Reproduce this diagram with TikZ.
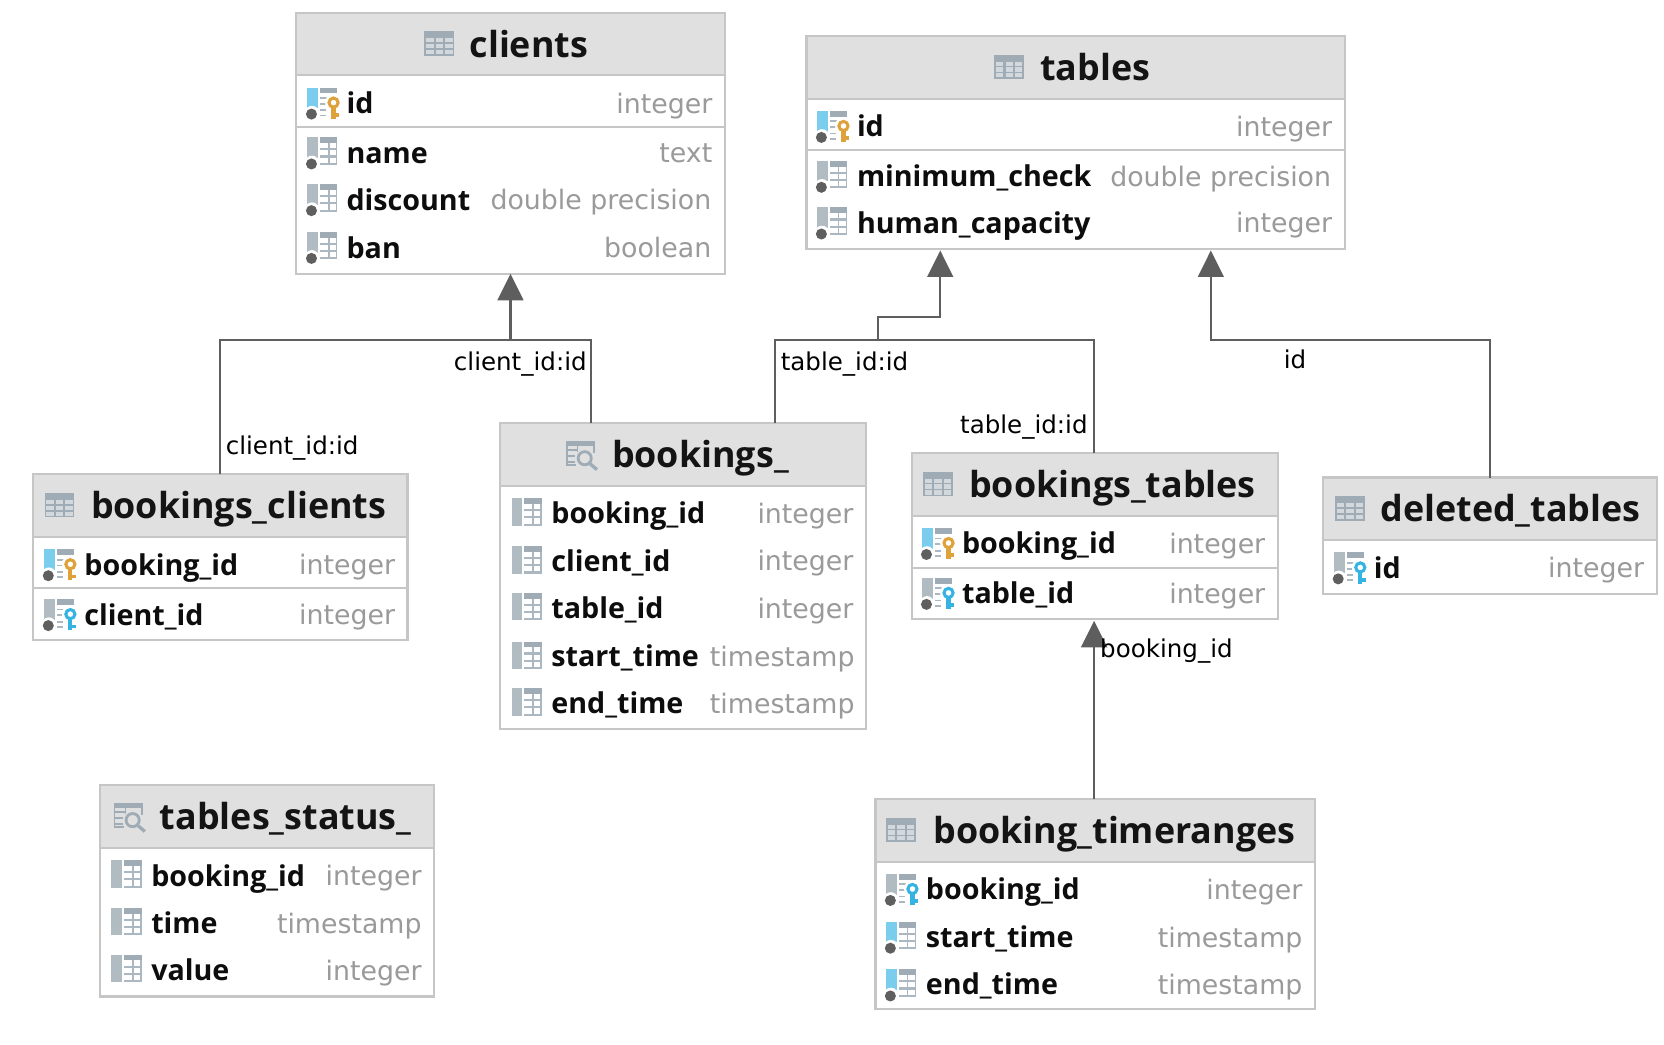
\documentclass[tikz,border=0pt]{standalone}
\usepackage{fontspec}
\setmainfont{DejaVu Sans}
\newfontfamily\namefont[BoldFont={Open Sans Bold}]{Open Sans}
\usetikzlibrary{arrows.meta,fit,calc}
\definecolor{boxline}{HTML}{C6C6C6}
\definecolor{headfill}{HTML}{E0E0E0}
\definecolor{conncol}{HTML}{5E5E5E}
\definecolor{typecol}{HTML}{9A9A9A}
\definecolor{icongray}{HTML}{9FACB5}
\definecolor{iconline}{HTML}{ABB8C1}
\definecolor{iconlight}{HTML}{D2D8DB}
\definecolor{barblue}{HTML}{7BCDEE}
\definecolor{bargray}{HTML}{B0BBC2}
\definecolor{keygold}{HTML}{DFA23A}
\definecolor{keyblue}{HTML}{35B4E4}
\definecolor{dotgray}{HTML}{5F5F5F}
\tikzset{
  x=0.7959pt,y=-0.7959pt,
  tbox/.style={draw=boxline,line width=1.6pt,inner sep=0pt,outer sep=0pt},
  sepline/.style={draw=boxline,line width=1.6pt},
  conn/.style={draw=conncol,line width=1.6pt},
  connarrow/.style={conn,-{Triangle[length=19.9pt,width=19.4pt,fill=conncol]}},
  titletext/.style={font=\namefont\bfseries\fontsize{26.9pt}{30pt}\selectfont,anchor=base west,inner sep=0pt,text=black!92},
  colname/.style={font=\namefont\bfseries\fontsize{21.5pt}{26pt}\selectfont,anchor=base west,inner sep=0pt,text=black!95},
  coltype/.style={font=\fontsize{20.1pt}{25pt}\selectfont,anchor=base east,inner sep=0pt,text=typecol},
  connlabel/.style={font=\fontsize{18.4pt}{22pt}\selectfont,anchor=base west,inner sep=0pt,text=black},
}
% table glyph in the header: #1 left, #2 centre y
\newcommand\tableglyph[2]{%
  \begin{scope}[shift={(#1,#2)}]
    \fill[icongray] (0,-11.5) rectangle (28,11.5);
    \foreach \cx in {1.5,10.5,19.5}\foreach \cy in {-5,0.5,6}
      \fill[iconlight] (\cx,\cy) rectangle ++(7,4);
  \end{scope}}
% view glyph in the header
\newcommand\viewglyph[2]{%
  \begin{scope}[shift={(#1,#2)}]
    \fill[icongray] (0,-12.3) rectangle (28,-7.8);
    \fill[icongray] (0,-7.8) rectangle (1.8,10);
    \fill[icongray] (26.2,-7.8) rectangle (28,-1);
    \fill[icongray] (0,9) rectangle (10,10.8);
    \fill[icongray] (1.8,-4.6) rectangle (10.5,-3);
    \fill[icongray] (1.8,0.8) rectangle (8.5,2.4);
    \fill[icongray] (1.8,6.4) rectangle (8.5,8);
    \fill[icongray] (10.5,-7.8) rectangle (12,-2);
    \draw[icongray,line width=2.1pt] (18,3.8) circle[radius=6.2];
    \draw[icongray,line width=2.5pt] (23,9) -- (29.5,14.5);
  \end{scope}}
% column glyph: #1 left, #2 row centre, #3 bar colour, #4 dot: 1 or 0
\newcommand\colicon[4]{%
  \begin{scope}[shift={(#1,#2)}]
    \fill[icongray] (12,-14.5) rectangle (28.5,-9);
    \fill[iconline] (26.8,-9) rectangle (28.5,11);
    \fill[iconline] (12,9.5) rectangle (28.5,11.5);
    \fill[iconline] (12,-4.2) rectangle (28.5,-2.2);
    \fill[iconline] (12,2.5) rectangle (28.5,4.5);
    \fill[iconline] (19.2,-9) rectangle (21,11);
    \fill[#3] (0,-14.5) rectangle (10,5);
    \ifnum#4=1
      \fill[white] (4.5,9.5) circle[radius=6.8];
      \fill[dotgray] (4,10.5) circle[radius=5.2];
    \else
      \fill[#3] (0,5) rectangle (10,11.5);
    \fi
  \end{scope}}
% key column glyph: #1 left, #2 row centre, #3 bar colour, #4 key colour
\newcommand\keyicon[4]{%
  \begin{scope}[shift={(#1,#2)}]
    \fill[icongray] (12,-14.5) rectangle (28.5,-9);
    \fill[iconline] (12,-5.5) rectangle (20,-3.8);
    \fill[iconline] (12,0) rectangle (18,1.7);
    \fill[iconline] (12,6) rectangle (18,7.7);
    \fill[iconline] (12,11) rectangle (18,12.7);
    \fill[#3] (0,-14.5) rectangle (10,5);
    \fill[white] (4.5,9.5) circle[radius=6.8];
    \fill[dotgray] (4,10.5) circle[radius=5.2];
    \fill[white] (24.8,-0.5) circle[radius=8];
    \draw[#4,line width=2.3pt] (24.8,-0.3) circle[radius=4.3];
    \fill[#4] (22.6,3) rectangle (26.8,15);
    \fill[#4] (26.8,9.5) rectangle (30,13);
  \end{scope}}
% table frame: #1 name, #2 x1, #3 y1, #4 x2, #5 y2, #6 header bottom
\newcommand\frametable[6]{%
  \fill[white] (#2,#3) rectangle (#4,#5);
  \fill[headfill] (#2,#3) rectangle (#4,#6);
  \node[tbox,fit={(#2,#3) (#4,#5)}] (#1) {};
  \draw[sepline] (#2,#6) -- (#4,#6);}
% column row: #1 node prefix, #2 text x, #3 right x, #4 centre y, #5 name, #6 type
\newcommand\rowtext[6]{%
  \node[colname] (#1n) at (#2-0.7,#4+10) {#5};
  \node[coltype] (#1t) at (#3+0.5,#4+9.5) {#6};}
\begin{document}
\begin{tikzpicture}
\useasboundingbox (0,0) rectangle (1568,983.8);
% ------- clients
\frametable{clients}{279}{12}{683}{258}{71}
\tableglyph{400}{41}
\node[titletext] (clientsT) at (442.3,54) {clients};
\draw[sepline] (279,120) -- (683,120);
\keyicon{289.5}{97}{barblue}{keygold}
\rowtext{c1}{327}{671}{97}{id}{integer}
\colicon{289.5}{144}{bargray}{1}
\rowtext{c2}{327}{671}{144}{name}{text}
\colicon{289.5}{188}{bargray}{1}
\rowtext{c3}{327}{670}{188}{discount}{double precision}
\colicon{289.5}{233}{bargray}{1}
\rowtext{c4}{327}{670}{233.5}{ban}{boolean}
% ------- tables
\frametable{tables}{760}{34}{1267}{235}{93}
\tableglyph{937}{63}
\node[titletext] (tablesT) at (980,75.4) {tables};
\draw[sepline] (760,141) -- (1267,141);
\keyicon{770}{119}{barblue}{keygold}
\rowtext{t1}{808}{1255}{119}{id}{integer}
\colicon{770}{166}{bargray}{1}
\rowtext{t2}{808}{1254}{166}{minimum\_check}{double precision}
\colicon{770}{210}{bargray}{1}
\rowtext{t3}{808}{1255}{210}{human\_capacity}{integer}
% ------- bookings_clients
\frametable{bclients}{31}{447}{384}{603}{506}
\tableglyph{42}{476}
\node[titletext] (bclientsT) at (85.5,488.4) {bookings\_clients};
\draw[sepline] (31,554) -- (384,554);
\keyicon{41.5}{532}{barblue}{keygold}
\rowtext{bc1}{80}{372}{532}{booking\_id}{integer}
\keyicon{41.5}{579}{bargray}{keyblue}
\rowtext{bc2}{80}{372}{579}{client\_id}{integer}
% ------- bookings_
\frametable{bookingsv}{471}{399}{816}{687}{458}
\viewglyph{533}{428}
\node[titletext] (bookingsvT) at (576.5,440.4) {bookings\_};
\colicon{482}{484}{bargray}{0}
\rowtext{b1}{520}{804}{483.5}{booking\_id}{integer}
\colicon{482}{529}{bargray}{0}
\rowtext{b2}{520}{804}{528.5}{client\_id}{integer}
\colicon{482}{573}{bargray}{0}
\rowtext{b3}{520}{804}{573}{table\_id}{integer}
\colicon{482}{619}{bargray}{0}
\rowtext{b4}{520}{805}{618.5}{start\_time}{timestamp}
\colicon{482}{663}{bargray}{0}
\rowtext{b5}{520}{805}{662.5}{end\_time}{timestamp}
% ------- bookings_tables
\frametable{btables}{859}{427}{1204}{583}{486}
\tableglyph{870}{456}
\node[titletext] (btablesT) at (913,468.4) {bookings\_tables};
\draw[sepline] (859,535) -- (1204,535);
\keyicon{869}{512}{barblue}{keygold}
\rowtext{bt1}{907}{1192}{512}{booking\_id}{integer}
\keyicon{869}{559}{bargray}{keyblue}
\rowtext{bt2}{907}{1192}{559}{table\_id}{integer}
% ------- deleted_tables
\frametable{deleted}{1247}{450}{1561}{560}{509}
\tableglyph{1258}{479}
\node[titletext] (deletedT) at (1300.5,491.8) {deleted\_tables};
\keyicon{1257}{535}{bargray}{keyblue}
\rowtext{d1}{1295}{1549}{535}{id}{integer}
% ------- tables_status_
\frametable{status}{94}{740}{409}{939}{799}
\viewglyph{107}{769}
\node[titletext] (statusT) at (150.5,781.4) {tables\_status\_};
\colicon{105}{825}{bargray}{0}
\rowtext{s1}{143}{397}{825}{booking\_id}{integer}
\colicon{105}{870}{bargray}{0}
\rowtext{s2}{143}{397}{870}{time}{timestamp}
\colicon{105}{914}{bargray}{0}
\rowtext{s3}{143}{397}{914}{value}{integer}
% ------- booking_timeranges
\frametable{timeranges}{825}{753}{1239}{951}{812}
\tableglyph{835}{782}
\node[titletext] (timerangesT) at (879.5,794.4) {booking\_timeranges};
\keyicon{835}{838}{bargray}{keyblue}
\rowtext{r1}{873}{1227}{838}{booking\_id}{integer}
\colicon{835}{883}{barblue}{1}
\rowtext{r2}{873}{1227}{883}{start\_time}{timestamp}
\colicon{835}{928}{barblue}{1}
\rowtext{r3}{873}{1227}{927.5}{end\_time}{timestamp}
% ------- connectors
\coordinate (j1) at (481,320);
\coordinate (bv1) at ($(bookingsv.north west)+(85.5,0)$);
\draw[connarrow] (bclients.north) |- (j1) -- (clients.south);
\draw[conn] (bv1) |- (j1);
\coordinate (tA) at (886,236);
\coordinate (tB) at (1141,236);
\coordinate (bv2) at ($(bookingsv.north west)+(259,0)$);
\coordinate (bt2) at ($(btables.north west)+(172,0)$);
\coordinate (j2) at (827,320);
\draw[conn] (bv2) |- (j2);
\draw[conn] (bt2) |- (j2);
\draw[connarrow] (j2) -- (827,299) -| (tA);
\coordinate (dl) at ($(deleted.north west)+(157,0)$);
\draw[connarrow] (dl) |- (1141,320) -- (tB);
\coordinate (tr) at ($(timeranges.north west)+(206,0)$);
\coordinate (bt3) at ($(btables.south west)+(172,2)$);
\draw[connarrow] (tr) -- (bt3);
% ------- labels
\node[connlabel] (l1) at (427.5,349.5) {client\_id:id};
\node[connlabel] (l2) at (212.5,428.5) {client\_id:id};
\node[connlabel] (l3) at (735.5,349.5) {table\_id:id};
\node[connlabel] (l4) at (904.5,408.5) {table\_id:id};
\node[connlabel] (l5) at (1209.5,347.5) {id};
\node[connlabel] (l6) at (1036.5,619.5) {booking\_id};
\end{tikzpicture}
\end{document}
